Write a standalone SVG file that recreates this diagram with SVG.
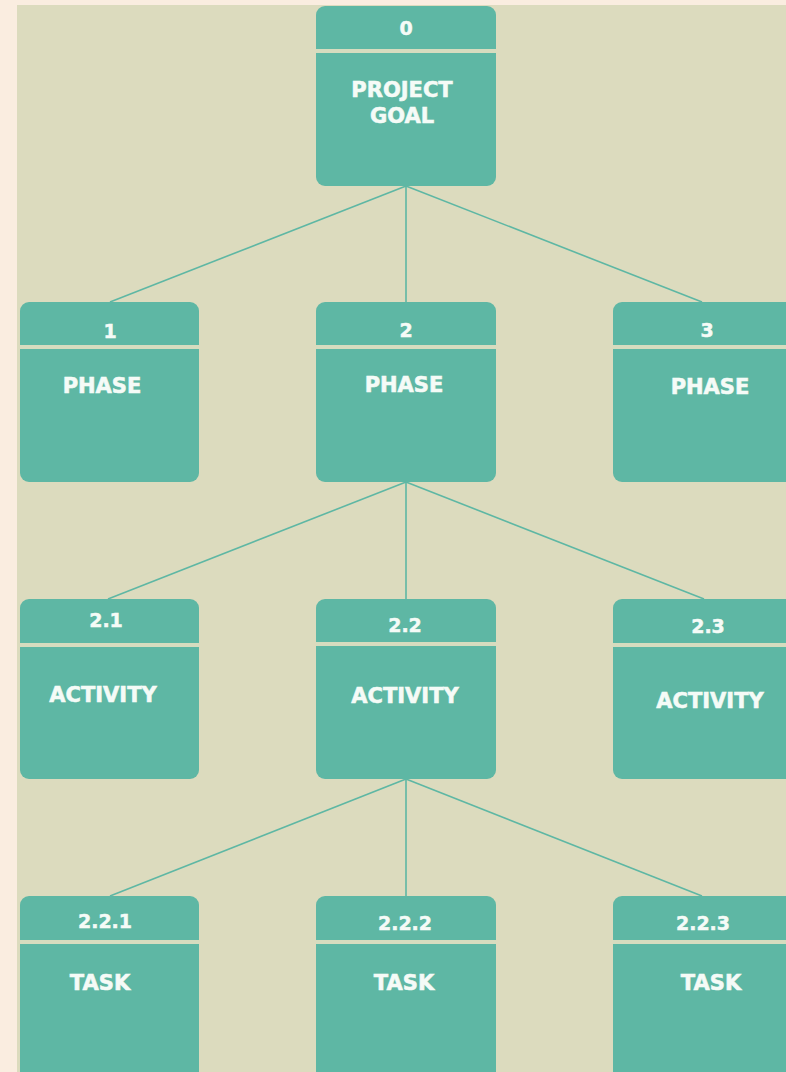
<svg xmlns="http://www.w3.org/2000/svg" width="786" height="1072" viewBox="0 0 786 1072">
<style>
.node{fill:#5eb7a4}
.div{fill:#d6dcbf}
.hd{font-family:"DejaVu Sans",sans-serif;font-weight:bold;font-size:19px;fill:#f5fbf7;stroke:#f5fbf7;stroke-width:0.5;text-anchor:middle}
.bd{font-family:"DejaVu Sans",sans-serif;font-weight:bold;font-size:21px;fill:#f5fbf7;stroke:#f5fbf7;stroke-width:0.6;text-anchor:middle}
.con line{stroke:#5eb7a4;stroke-width:1.6}
</style>
<rect x="0" y="0" width="786" height="1072" fill="#faede0"/>
<rect x="17" y="5" width="769" height="1067" fill="#dcdbbe"/>
<g class="con">
<line x1="406" y1="186" x2="110" y2="302"/>
<line x1="406" y1="186" x2="406" y2="302"/>
<line x1="406" y1="186" x2="702" y2="302"/>
<line x1="406" y1="482" x2="108" y2="599"/>
<line x1="406" y1="482" x2="406" y2="599"/>
<line x1="406" y1="482" x2="704" y2="599"/>
<line x1="406" y1="779" x2="110" y2="896"/>
<line x1="406" y1="779" x2="406" y2="896"/>
<line x1="406" y1="779" x2="702" y2="896"/>
</g>
<g id="n0"><rect class="node" x="316" y="6" width="180" height="180" rx="9"/><rect class="div" x="316" y="49" width="180" height="4"/><text class="hd" x="406" y="35">0</text><text class="bd" x="402" y="97">PROJECT</text><text class="bd" x="402" y="123">GOAL</text></g>
<g id="n1"><rect class="node" x="20" y="302" width="179" height="180" rx="9"/><rect class="div" x="20" y="345" width="179" height="4"/><text class="hd" x="110" y="338">1</text><text class="bd" x="102" y="393">PHASE</text></g>
<g id="n2"><rect class="node" x="316" y="302" width="180" height="180" rx="9"/><rect class="div" x="316" y="345" width="180" height="4"/><text class="hd" x="406" y="337">2</text><text class="bd" x="404" y="392">PHASE</text></g>
<g id="n3"><rect class="node" x="613" y="302" width="185" height="180" rx="9"/><rect class="div" x="613" y="345" width="185" height="4"/><text class="hd" x="707" y="337">3</text><text class="bd" x="710" y="394">PHASE</text></g>
<g id="n21"><rect class="node" x="20" y="599" width="179" height="180" rx="9"/><rect class="div" x="20" y="643" width="179" height="4"/><text class="hd" x="106" y="627">2.1</text><text class="bd" x="103" y="702">ACTIVITY</text></g>
<g id="n22"><rect class="node" x="316" y="599" width="180" height="180" rx="9"/><rect class="div" x="316" y="642" width="180" height="4"/><text class="hd" x="405" y="632">2.2</text><text class="bd" x="405" y="703">ACTIVITY</text></g>
<g id="n23"><rect class="node" x="613" y="599" width="185" height="180" rx="9"/><rect class="div" x="613" y="643" width="185" height="4"/><text class="hd" x="708" y="633">2.3</text><text class="bd" x="710" y="708">ACTIVITY</text></g>
<g id="n221"><rect class="node" x="20" y="896" width="179" height="185" rx="9"/><rect class="div" x="20" y="940" width="179" height="4"/><text class="hd" x="105" y="928">2.2.1</text><text class="bd" x="100" y="990">TASK</text></g>
<g id="n222"><rect class="node" x="316" y="896" width="180" height="185" rx="9"/><rect class="div" x="316" y="940" width="180" height="4"/><text class="hd" x="405" y="930">2.2.2</text><text class="bd" x="404" y="990">TASK</text></g>
<g id="n223"><rect class="node" x="613" y="896" width="185" height="185" rx="9"/><rect class="div" x="613" y="940" width="185" height="4"/><text class="hd" x="703" y="930">2.2.3</text><text class="bd" x="711" y="990">TASK</text></g>
</svg>
